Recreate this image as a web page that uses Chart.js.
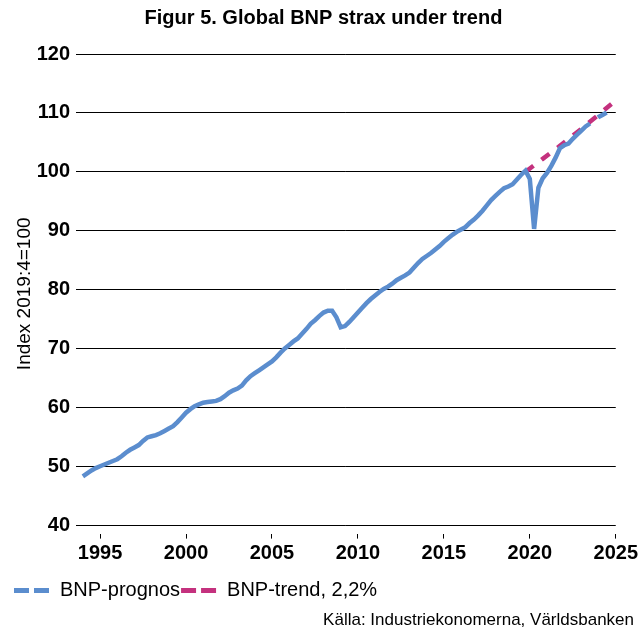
<!DOCTYPE html>
<html>
<head>
<meta charset="utf-8">
<title>Figur 5. Global BNP strax under trend</title>
<script src="https://cdn.jsdelivr.net/npm/chart.js@4/dist/chart.umd.min.js"></script>
<style>
  html, body { margin: 0; padding: 0; background: #fff; }
  #wrap { position: relative; width: 641px; height: 631px; }
</style>
</head>
<body>
<div id="wrap"><canvas id="bnp"></canvas></div>
<script>
// data, quarterly index, 2019:4 = 100
const firstYear = 1994; // first value is 1994 Q1
const gdpForecast = [
  48.3, 48.8, 49.3, 49.7,   // 1994
  50.0, 50.3, 50.6, 50.9,   // 1995
  51.2, 51.7, 52.3, 52.8,   // 1996
  53.2, 53.6, 54.3, 54.9,   // 1997
  55.1, 55.3, 55.6, 56.0,   // 1998
  56.4, 56.8, 57.5, 58.3,   // 1999
  59.1, 59.7, 60.2, 60.5,   // 2000
  60.8, 60.9, 61.0, 61.1,   // 2001
  61.4, 61.9, 62.5, 62.9,   // 2002
  63.2, 63.7, 64.6, 65.3,   // 2003
  65.8, 66.3, 66.8, 67.3,   // 2004
  67.8, 68.5, 69.3, 70.0,   // 2005
  70.6, 71.2, 71.7, 72.5,   // 2006
  73.3, 74.2, 74.8, 75.5,   // 2007
  76.1, 76.4, 76.4, 75.3,   // 2008
  73.6, 73.8, 74.5, 75.3,   // 2009
  76.1, 76.9, 77.7, 78.4,   // 2010
  79.0, 79.6, 80.1, 80.5,   // 2011
  81.0, 81.6, 82.0, 82.4,   // 2012
  82.9, 83.7, 84.5, 85.2,   // 2013
  85.7, 86.2, 86.8, 87.4,   // 2014
  88.1, 88.7, 89.3, 89.8,   // 2015
  90.2, 90.6, 91.3, 91.9,   // 2016
  92.6, 93.4, 94.3, 95.2,   // 2017
  95.9, 96.6, 97.2, 97.5,   // 2018
  97.9, 98.7, 99.5, 100.2,  // 2019
  98.8, 90.3, 97.3, 98.9,   // 2020
  99.8, 101.0, 102.4, 104.0, // 2021
  104.5, 104.8, 105.6, 106.3, // 2022
  107.0, 107.7, 108.2, 108.8, // 2023
  109.3, 109.7, 110.1, 110.5  // 2024
];
const forecastFrom = 2023.5; // dashed part of the blue line

const trendYears = [2019.75, 2020.75, 2021.75, 2022.75, 2023.75, 2024.75];
const trendValues = [100, 102.2, 104.4, 106.7, 109.1, 111.5];

const xTicks = [1995, 2000, 2005, 2010, 2015, 2020, 2025];
const yTicks = [40, 50, 60, 70, 80, 90, 100, 110, 120];

const blue = '#5B8DCE';
const magenta = '#C4317E';

Chart.defaults.font.family = "'Liberation Sans', Arial, sans-serif";
Chart.defaults.color = '#000';

const gdpPoints = gdpForecast.map((v, i) => ({ x: firstYear + i / 4, y: v }));
const trendPoints = trendYears.map((yr, i) => ({ x: yr, y: trendValues[i] }));

const chart = new Chart(document.getElementById('bnp'), {
  type: 'line',
  data: {
    datasets: [
      {
        label: 'BNP-prognos',
        data: gdpPoints,
        borderColor: blue,
        backgroundColor: blue,
        borderWidth: 4.5,
        pointRadius: 0,
        tension: 0,
        borderDash: [10, 10],
        borderDashOffset: 10,
        segment: {
          borderDash: ctx => ctx.p0.parsed.x < forecastFrom ? [] : undefined
        }
      },
      {
        label: 'BNP-trend, 2,2%',
        data: trendPoints,
        borderColor: magenta,
        backgroundColor: magenta,
        borderWidth: 4.5,
        pointRadius: 0,
        tension: 0,
        borderDash: [10, 10]
      }
    ]
  },
  options: {
    responsive: true,
    maintainAspectRatio: false,
    animation: false,
    layout: { padding: { left: 13, right: 7, top: 6, bottom: 0 } },
    plugins: {
      title: {
        display: true,
        text: 'Figur 5. Global BNP strax under trend',
        font: { size: 20, weight: 'bold' },
        color: '#000',
        padding: { top: 0, bottom: 24 }
      },
      subtitle: {
        display: true,
        position: 'bottom',
        align: 'end',
        text: 'Källa: Industriekonomerna, Världsbanken',
        font: { size: 17 },
        color: '#000',
        padding: { top: 0, bottom: 0 }
      },
      legend: {
        position: 'bottom',
        align: 'start',
        labels: {
          usePointStyle: true,
          pointStyle: 'line',
          pointStyleWidth: 36,
          font: { size: 20 },
          color: '#000',
          padding: 1,
          generateLabels: c => Chart.defaults.plugins.legend.labels.generateLabels(c)
            .map(item => ({ ...item, lineDash: [15, 5], lineDashOffset: 0, lineWidth: 5 }))
        }
      },
      tooltip: { enabled: false }
    },
    scales: {
      x: {
        type: 'linear',
        min: 1993.6,
        max: 2025,
        afterBuildTicks: s => { s.ticks = xTicks.map(v => ({ value: v })); },
        afterFit: s => { s.height = 46; },
        border: { display: false },
        grid: { drawOnChartArea: false, drawTicks: true, tickLength: 5, color: '#000', lineWidth: 1 },
        ticks: {
          font: { size: 20, weight: 'bold' },
          color: '#000',
          padding: 3,
          maxRotation: 0,
          autoSkip: false,
          callback: v => String(v)
        }
      },
      y: {
        min: 38.57,
        max: 120,
        afterBuildTicks: s => { s.ticks = yTicks.map(v => ({ value: v })); },
        afterFit: s => { s.width = 63; },
        border: { display: false },
        grid: { color: '#000', lineWidth: 1, drawTicks: false },
        ticks: {
          font: { size: 20, weight: 'bold' },
          color: '#000',
          padding: 6,
          callback: v => String(v)
        },
        title: {
          display: true,
          text: 'Index 2019:4=100',
          font: { size: 19 },
          color: '#000',
          padding: { top: 0, bottom: 0 }
        }
      }
    }
  }
});
</script>
</body>
</html>
